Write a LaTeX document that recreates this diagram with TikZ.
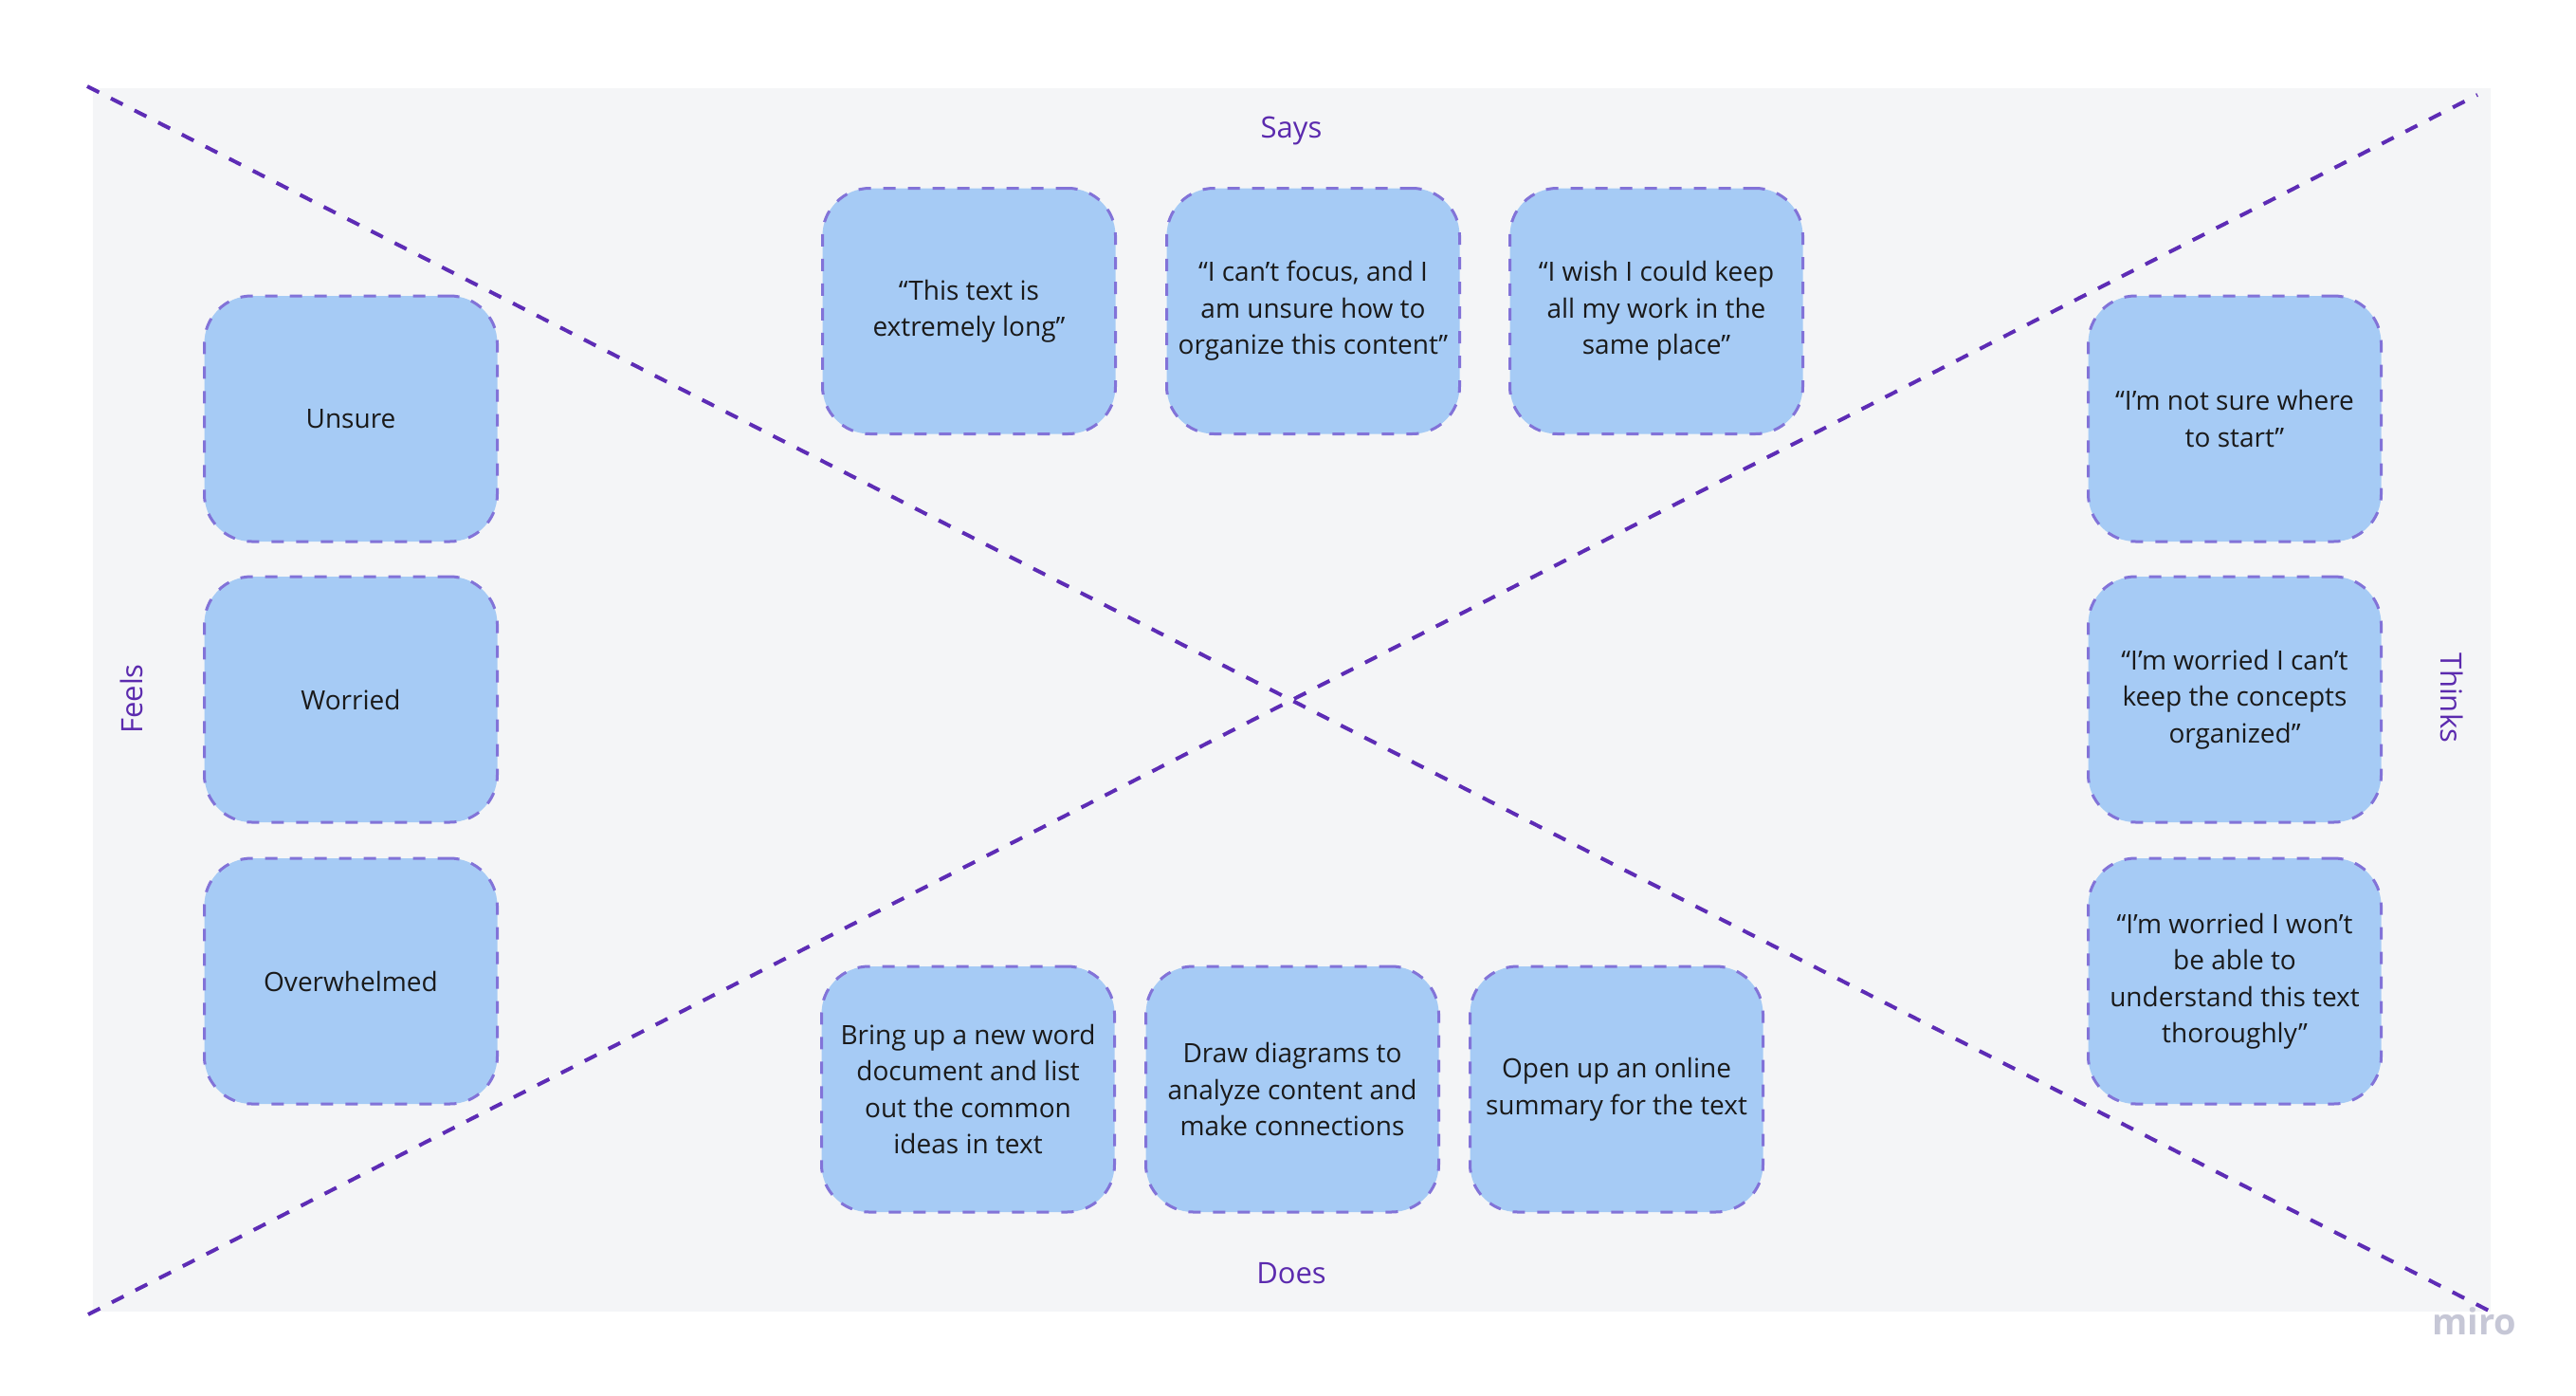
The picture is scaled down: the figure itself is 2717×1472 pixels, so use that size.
\documentclass[tikz,border=0pt]{standalone}
\usepackage{fontspec}
\setmainfont{Open Sans}
\definecolor{bgc}{HTML}{F4F5F7}
\definecolor{linec}{HTML}{5D2CB5}
\definecolor{borderc}{HTML}{8273D8}
\definecolor{fillc}{HTML}{A6CBF5}
\definecolor{labelc}{HTML}{5B2AAE}
\definecolor{textc}{HTML}{1A1A1A}
\definecolor{miroc}{HTML}{C6C7D6}
\begin{document}
\begin{tikzpicture}[x=1pt,y=-1pt,
  card/.style={draw=borderc, fill=fillc, line width=3pt, dash pattern=on 13pt off 13pt,
    rounded corners=50pt, minimum width=309pt, minimum height=259pt, inner sep=0pt,
    align=center, text=textc, font=\fontsize{28}{38.5}\selectfont},
  lab/.style={text=labelc, font=\fontsize{31}{36}\selectfont, inner sep=0pt, anchor=base},
  diag/.style={draw=linec, line width=4pt, dash pattern=on 14pt off 14pt}]
\useasboundingbox (0,0) rectangle (2717,1472);
\fill[bgc] (98,93) rectangle (2627,1383);
% diagonal guide lines
\coordinate (tl) at (92,91);
\coordinate (br) at (2631,1385);
\coordinate (bl) at (93,1386);
\coordinate (tr) at (2613,100);
\draw[diag] (tl) -- (br);
\draw[diag] (bl) -- (tr);
% labels
\node[lab] (says) at (1362,145) {Says};
\node[lab] (does) at (1362,1353) {Does};
\node[lab, rotate=90] (feels) at (150,737) {Feels};
\node[lab, rotate=-90] (thinks) at (2574,736) {Thinks};
% Feels
\node[card] (f1) at (370,441.5) {Unsure};
\node[card] (f2) at (370,737.5) {Worried};
\node[card] (f3) at (370,1034.5) {Overwhelmed};
% Says
\node[card] (s1) at (1022,328) {“This text is\\extremely long”};
\node[card] (s2) at (1385,328) {“I can’t focus, and I\\am unsure how to\\organize this content”};
\node[card] (s3) at (1747,328) {“I wish I could keep\\all my work in the\\same place”};
% Thinks
\node[card] (t1) at (2357,441.5) {“I’m not sure where\\to start”};
\node[card] (t2) at (2357,737.5) {“I’m worried I can’t\\keep the concepts\\organized”};
\node[card] (t3) at (2357,1034.5) {“I’m worried I won’t\\be able to\\understand this text\\thoroughly”};
% Does
\node[card] (d1) at (1021,1148.5) {Bring up a new word\\document and list\\out the common\\ideas in text};
\node[card] (d2) at (1363,1148.5) {Draw diagrams to\\analyze content and\\make connections};
\node[card] (d3) at (1705,1148.5) {Open up an online\\summary for the text};
% watermark
\node[anchor=base, inner sep=0pt, text=miroc, font=\fontsize{38}{38}\selectfont\bfseries] (miro) at (2610,1407) {miro};
\end{tikzpicture}
\end{document}
